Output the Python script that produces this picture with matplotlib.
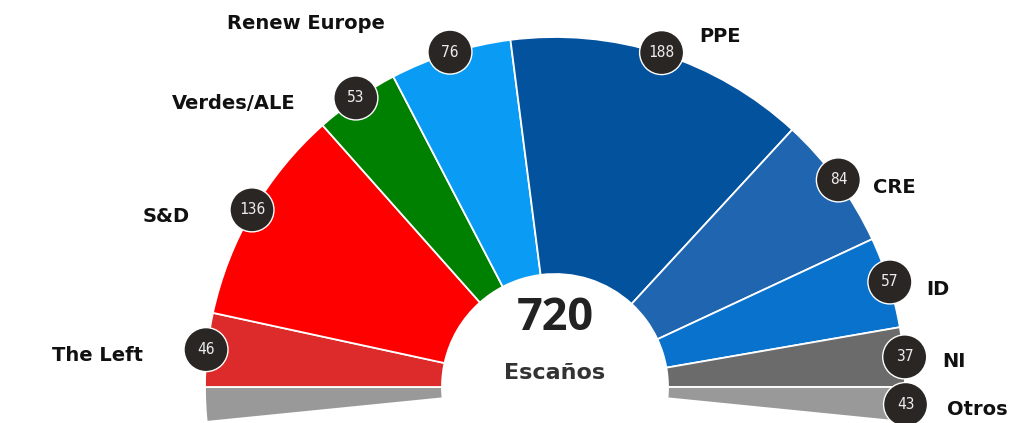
import numpy as np
import matplotlib
matplotlib.use("Agg")
import matplotlib.pyplot as plt
from matplotlib.patches import Wedge, Circle

# data (left to right)
parties = ['The Left', 'S&D', 'Verdes/ALE', 'Renew Europe', 'PPE', 'CRE', 'ID', 'NI', 'Otros']
seats = [46, 136, 53, 76, 188, 84, 57, 37, 43]
colors = ['#dd2a2a', '#ff0000', '#008000', '#0a9cf5', '#03529e', '#1f65b0', '#0872cc', '#6b6b6b', '#999999']
total = sum(seats)

# layout (pixel coords, y up)
W, H = 1025, 423
cx, cy = 555, H - 387
r_out, r_in = 350, 113
# name label offsets from the number badge (dx, dy, ha)
name_off = {
    'The Left': (-63, -6, 'right'), 'S&D': (-62, -7, 'right'),
    'Verdes/ALE': (-60, -6, 'right'), 'Renew Europe': (-65, 29, 'right'),
    'PPE': (38, 16, 'left'), 'CRE': (35, -8, 'left'), 'ID': (36, -8, 'left'),
    'NI': (38, -5, 'left'), 'Otros': (41, -5, 'left'),
}

fig = plt.figure(figsize=(W / 100, H / 100), dpi=100)
ax = fig.add_axes([0, 0, 1, 1])
ax.set_xlim(0, W)
ax.set_ylim(0, H)
ax.axis('off')

# "Otros" is split into two halves below the horizontal, the rest fills 180 deg
deg = 180.0 / (total - seats[-1])
half = seats[-1] / 2 * deg
segs = [('Otros', seats[-1] / 2, colors[-1], False)]
segs += [(p, s, c, True) for p, s, c in zip(parties[:-1], seats[:-1], colors[:-1])]
segs += [('Otros', seats[-1] / 2, colors[-1], True)]

theta = 180 + half
for name, s, col, show in segs:
    t2 = theta
    t1 = theta - s * deg
    ax.add_patch(Wedge((cx, cy), r_out, t1, t2, width=r_out - r_in,
                       facecolor=col, edgecolor='white', linewidth=1.3))
    if show:
        mid = np.radians((t1 + t2) / 2)
        bx = cx + (r_out + 1) * np.cos(mid)
        by = cy + (r_out + 1) * np.sin(mid)
        ax.add_patch(Circle((bx, by), 22, facecolor='#2a2624', edgecolor='white',
                            linewidth=1.0, zorder=5))
        val = seats[parties.index(name)]
        ax.text(bx, by, str(val), ha='center', va='center', color='#ececec',
                fontsize=10.5, family='DejaVu Sans Mono', zorder=6)
        dx, dy, ha = name_off[name]
        ax.text(bx + dx, by + dy, name, ha=ha, va='center', color='#111111',
                fontsize=14, fontweight='bold', family='DejaVu Sans', zorder=6)
    theta = t1

ax.text(cx, H - 318, str(total), ha='center', va='center', color='#222222',
        fontsize=32.5, fontweight='bold', family='Open Sans')
ax.text(cx, H - 373, 'Escaños', ha='center', va='center', color='#333333',
        fontsize=16, fontweight='bold', family='DejaVu Sans')

fig.savefig('out.png', dpi=100, facecolor='white')
